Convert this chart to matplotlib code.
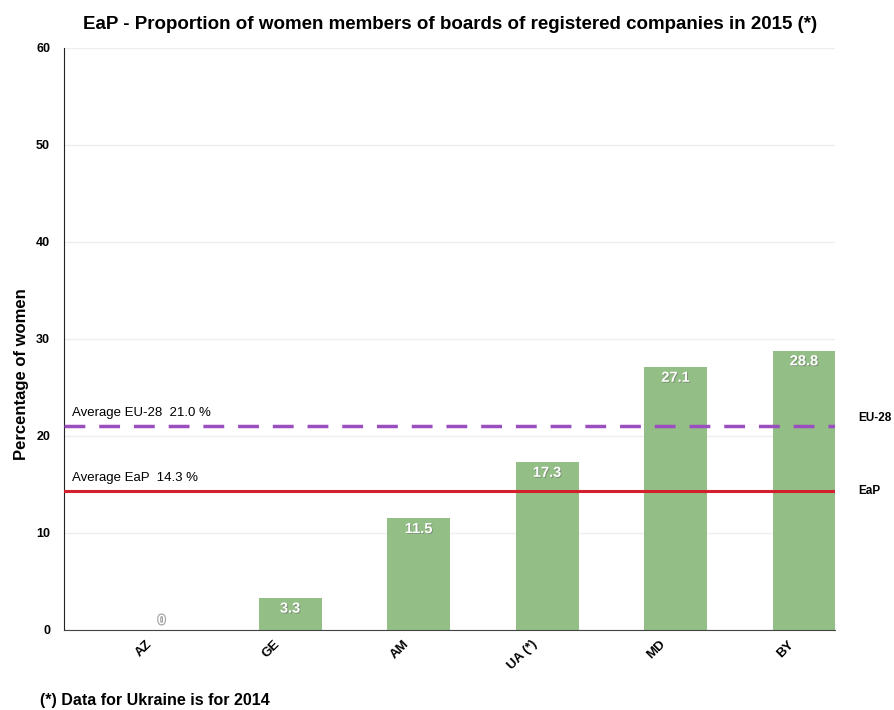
import matplotlib
matplotlib.use("Agg")
import matplotlib.pyplot as plt
import matplotlib.patheffects as pe
import matplotlib.transforms as mtransforms

# Women on boards of registered companies, 2015 (UA: 2014)
countries = ["AZ", "GE", "AM", "UA (*)", "MD", "BY"]
share = [0, 3.3, 11.5, 17.3, 27.1, 28.8]
avg_eu28 = 21.0
avg_eap = 14.3

plt.rcParams['font.family'] = ['Liberation Sans', 'DejaVu Sans']

fig = plt.figure(figsize=(8.95, 7.1), dpi=100)
ax = fig.add_axes([0.0715, 0.1127, 0.862, 0.8197])

x = range(len(countries))
bars = ax.bar(x, share, width=0.49, color="#93bf86", zorder=2)

ax.set_ylim(0, 60)
ax.set_xlim(-0.76, 5.245)
ax.set_yticks(range(0, 61, 10))
ax.yaxis.grid(True, color="#eeeeee", linewidth=1, zorder=0)
ax.set_axisbelow(True)
ax.tick_params(length=0, pad=10)
for lbl in ax.get_yticklabels():
    lbl.set_fontweight("bold")
    lbl.set_fontsize(9)

ax.set_xticks(list(x))
ax.set_xticklabels(countries, rotation=45, ha="right", rotation_mode="anchor",
                   fontsize=9.5, fontweight="bold")
ax.tick_params(axis="x", pad=6)
shift = mtransforms.ScaledTranslation(-16 / 100, 0, fig.dpi_scale_trans)
for lbl in ax.get_xticklabels():
    lbl.set_transform(lbl.get_transform() + shift)

for s in ["top", "right"]:
    ax.spines[s].set_visible(False)
ax.spines["left"].set_color("#222222")
ax.spines["bottom"].set_color("#444444")

ax.set_ylabel("Percentage of women", fontsize=12, fontweight="bold")
ax.yaxis.set_label_coords(-0.046, 0.44)

# value labels inside the bars
shadow = [pe.withSimplePatchShadow(offset=(0.6, -0.6), shadow_rgbFace="#555555", alpha=0.5)]
for b, v in zip(bars, share):
    cx = b.get_x() + b.get_width() / 2
    if v > 0:
        ax.text(cx, v - 1.1, f"{v:.1f}", ha="center", va="center", color="white",
                fontsize=10.5, fontweight="bold", path_effects=shadow, zorder=4)
    else:
        ax.text(cx, 1.0, f"{v:g}", ha="center", va="center", color="white",
                fontsize=10, fontweight="bold",
                path_effects=[pe.withStroke(linewidth=1.5, foreground="#999999")], zorder=4)

# reference averages
ax.axhline(avg_eu28, color="#9b4fbf", linewidth=2.5, dashes=(6, 4), zorder=3)
ax.axhline(avg_eap, color="#d41f2c", linewidth=2.2, zorder=3)
ax.text(0.01, avg_eu28 + 0.8, f"Average EU-28  {avg_eu28:.1f} %", transform=ax.get_yaxis_transform(),
        fontsize=9.5, va="bottom", ha="left")
ax.text(0.01, avg_eap + 0.8, f"Average EaP  {avg_eap:.1f} %", transform=ax.get_yaxis_transform(),
        fontsize=9.5, va="bottom", ha="left")
ax.text(1.03, avg_eu28 + 0.9, "EU-28", transform=ax.get_yaxis_transform(),
        fontsize=8.5, fontweight="bold", va="center", ha="left")
ax.text(1.03, avg_eap, "EaP", transform=ax.get_yaxis_transform(),
        fontsize=8.5, fontweight="bold", va="center", ha="left")

fig.text(0.503, 0.966, "EaP - Proportion of women members of boards of registered companies in 2015 (*)",
         ha="center", va="center", fontsize=13.5, fontweight="bold")
fig.text(0.045, 0.014, "(*) Data for Ukraine is for 2014", ha="left", va="center",
         fontsize=11.5, fontweight="bold")

fig.savefig("out.png", dpi=100)
